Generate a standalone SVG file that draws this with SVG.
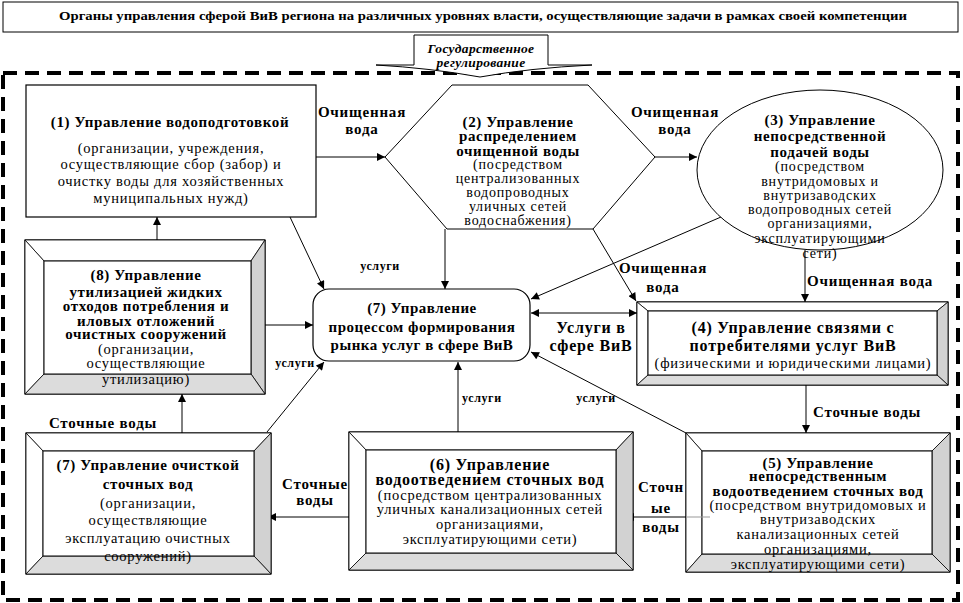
<svg xmlns="http://www.w3.org/2000/svg" width="963" height="603" viewBox="0 0 963 603" font-family="Liberation Serif">
<defs>
<marker id="ah" viewBox="0 0 10 10" refX="10" refY="5" markerWidth="9" markerHeight="8" markerUnits="userSpaceOnUse" orient="auto-start-reverse">
<path d="M0,0 L10,5 L0,10 Z" fill="#000"/>
</marker>
<style>
text{font-family:'Liberation Serif',serif;fill:#000}
.t{font-family:'Liberation Serif',serif;font-weight:bold;font-size:13px}
.b{font-family:'Liberation Serif',serif;font-weight:bold;font-size:15px;letter-spacing:0.6px;text-anchor:middle}
.b2{font-family:'Liberation Serif',serif;font-weight:bold;font-size:16px;letter-spacing:0.8px;text-anchor:middle}
.b3{font-family:'Liberation Serif',serif;font-weight:bold;font-size:15px;letter-spacing:0.5px;text-anchor:middle}
.n{font-family:'Liberation Serif',serif;font-size:14.5px;letter-spacing:0.75px;text-anchor:middle}
.n2{font-family:'Liberation Serif',serif;font-size:14px;letter-spacing:0.8px;text-anchor:middle}
.l{font-family:'Liberation Serif',serif;font-weight:bold;font-size:15px;letter-spacing:0.8px}
.u{font-family:'Liberation Serif',serif;font-weight:bold;font-size:12px;letter-spacing:0.6px}
.c{text-anchor:middle}
.ar{stroke:#000;stroke-width:1;fill:none;marker-end:url(#ah)}
.box{fill:#fff;stroke:#000;stroke-width:1.2}
.lt{fill:#fff;stroke:#000;stroke-width:0.8}
.gr{fill:#d2d2d2;stroke:#000;stroke-width:0.8}
.gb{fill:#dcdcdc;stroke:#000;stroke-width:0.8}
</style>
</defs>
<rect width="963" height="603" fill="#fff"/>

<g id="title">
<rect x="3" y="2" width="955" height="30" fill="#fff" stroke="#000" stroke-width="1"/>
<text class="t" x="483" y="20" text-anchor="middle" textLength="848" lengthAdjust="spacingAndGlyphs">Органы управления сферой ВиВ региона на различных уровнях власти, осуществляющие задачи в рамках своей компетенции</text>
</g>

<g id="border">
<rect x="3" y="73" width="955" height="527" fill="none" stroke="#000" stroke-width="4" stroke-dasharray="14,8"/>
</g>

<g id="regulation">
<path d="M414,65 L414,35 L548,35 L548,65 L592,65 Q530,68 480,77 Q430,68 376,65 L414,65 Z" fill="#fff" stroke="#000" stroke-width="1"/>
<text x="481" y="53" text-anchor="middle" font-size="13.5" font-style="italic" font-weight="bold" letter-spacing="0.3">Государственное</text>
<text x="481" y="67" text-anchor="middle" font-size="13.5" font-style="italic" font-weight="bold" letter-spacing="0.3">регулирование</text>
</g>

<g id="connectors">
<line class="ar" x1="316" y1="157" x2="385" y2="157"/>
<line class="ar" x1="655" y1="157" x2="697" y2="157"/>
<line class="ar" x1="445" y1="229" x2="445" y2="289"/>
<line class="ar" x1="593" y1="229" x2="636" y2="301"/>
<line class="ar" x1="721" y1="217" x2="531" y2="299"/>
<line class="ar" x1="805" y1="250" x2="805" y2="302"/>
<line class="ar" x1="531" y1="313" x2="637" y2="313" marker-start="url(#ah)"/>
<line class="ar" x1="290" y1="217" x2="324" y2="289"/>
<line class="ar" x1="157" y1="240" x2="157" y2="217"/>
<line class="ar" x1="265" y1="325" x2="313" y2="325"/>
<line class="ar" x1="267" y1="432" x2="324" y2="362"/>
<line class="ar" x1="182" y1="433" x2="182" y2="394"/>
<line class="ar" x1="458" y1="432" x2="458" y2="362"/>
<line class="ar" x1="686" y1="433" x2="531" y2="352"/>
<line class="ar" x1="806" y1="385" x2="806" y2="433"/>
<line class="ar" x1="686" y1="517" x2="626" y2="517"/>
<line class="ar" x1="349" y1="517" x2="268" y2="517"/>
</g>

<g id="labels">
<text class="l c" x="362" y="117">Очищенная</text>
<text class="l c" x="362" y="134">вода</text>
<text class="l c" x="675" y="117">Очищенная</text>
<text class="l c" x="675" y="134">вода</text>
<text class="u c" x="380" y="270">услуги</text>
<text class="l c" x="663" y="273">Очищенная</text>
<text class="l c" x="663" y="292">вода</text>
<text class="l" x="807" y="286">Очищенная вода</text>
<text class="b2" x="591" y="333">Услуги в</text>
<text class="b2" x="591" y="351">сфере ВиВ</text>
<text class="u c" x="295" y="367">услуги</text>
<text class="u" x="462" y="402">услуги</text>
<text class="u c" x="596" y="402">услуги</text>
<text class="l" x="813" y="417">Сточные воды</text>
<text class="l c" x="103" y="428">Сточные воды</text>
<text class="l c" x="315" y="489">Сточные</text>
<text class="l c" x="315" y="505">воды</text>
<text class="l c" x="661" y="492">Сточн</text>
<text class="l c" x="661" y="513">ые</text>
<text class="l c" x="661" y="532">воды</text>
</g>

<g id="node1">
<rect class="box" x="26" y="85" width="290" height="132"/>
<text class="b" x="170" y="127">(1) Управление водоподготовкой</text>
<text class="n" x="171" y="153">(организации, учреждения,</text>
<text class="n" x="171" y="169">осуществляющие сбор (забор) и</text>
<text class="n" x="171" y="186">очистку воды для хозяйственных</text>
<text class="n" x="171" y="203">муниципальных нужд)</text>
</g>

<g id="node2">
<polygon points="385,157 452,85 588,85 655,157 593,229 447,229" fill="#fff" stroke="#000" stroke-width="1"/>
<text class="b" x="518" y="127">(2) Управление</text>
<text class="b" x="518" y="141">распределением</text>
<text class="b" x="518" y="156">очищенной воды</text>
<text class="n2" x="518" y="169">(посредством</text>
<text class="n2" x="518" y="183">централизованных</text>
<text class="n2" x="518" y="197">водопроводных</text>
<text class="n2" x="518" y="211">уличных сетей</text>
<text class="n2" x="518" y="225">водоснабжения)</text>
</g>

<g id="node3">
<ellipse cx="820" cy="170" rx="123" ry="80" fill="#fff" stroke="#000" stroke-width="1"/>
<text class="b" x="820" y="125">(3) Управление</text>
<text class="b" x="820" y="141">непосредственной</text>
<text class="b" x="820" y="157">подачей воды</text>
<text class="n2" x="820" y="171">(посредством</text>
<text class="n2" x="820" y="186">внутридомовых и</text>
<text class="n2" x="820" y="200">внутризаводских</text>
<text class="n2" x="820" y="214">водопроводных сетей</text>
<text class="n2" x="820" y="228">организациями,</text>
<text class="n2" x="820" y="243">эксплуатирующими</text>
<text class="n2" x="820" y="258">сети)</text>
</g>

<g id="node8">
<rect class="box" x="25" y="240" width="240" height="154"/>
<polygon class="lt" points="25,240 265,240 251,261 44,261"/>
<polygon class="lt" points="25,240 44,261 44,374 25,394"/>
<polygon class="gr" points="265,240 265,394 251,374 251,261"/>
<polygon class="gb" points="25,394 44,374 251,374 265,394"/>
<rect x="44" y="261" width="207" height="113" fill="#fff" stroke="#000" stroke-width="1"/>
<text class="b" x="146" y="280">(8) Управление</text>
<text class="b" x="146" y="297">утилизацией жидких</text>
<text class="b" x="146" y="311">отходов потребления и</text>
<text class="b" x="146" y="326">иловых отложений</text>
<text class="b" x="146" y="339">очистных сооружений</text>
<text class="n" x="146" y="354">(организации,</text>
<text class="n" x="146" y="368">осуществляющие</text>
<text class="n" x="146" y="384">утилизацию)</text>
</g>

<g id="node7c">
<rect class="box" x="313" y="289" width="217" height="72" rx="16" ry="16"/>
<text class="b3" x="422" y="313">(7) Управление</text>
<text class="b3" x="422" y="332">процессом формирования</text>
<text class="b3" x="422" y="350">рынка услуг в сфере ВиВ</text>
</g>

<g id="node4">
<rect class="box" x="637" y="302" width="311" height="83"/>
<polygon class="lt" points="637,302 948,302 937,311 648,311"/>
<polygon class="lt" points="637,302 648,311 648,375 637,385"/>
<polygon class="gr" points="948,302 948,385 937,375 937,311"/>
<polygon class="gb" points="637,385 648,375 937,375 948,385"/>
<rect x="648" y="311" width="289" height="64" fill="#fff" stroke="#000" stroke-width="1"/>
<text class="b2" x="793" y="333">(4) Управление связями с</text>
<text class="b2" x="793" y="351">потребителями услуг ВиВ</text>
<text class="n" x="793" y="368">(физическими и юридическими лицами)</text>
</g>

<g id="node5">
<rect class="box" x="686" y="433" width="264" height="139"/>
<polygon class="lt" points="686,433 950,433 932,451 702,451"/>
<polygon class="lt" points="686,433 702,451 702,554 686,572"/>
<polygon class="gr" points="950,433 950,572 932,554 932,451"/>
<polygon class="gb" points="686,572 702,554 932,554 950,572"/>
<rect x="702" y="451" width="230" height="103" fill="#fff" stroke="#000" stroke-width="1"/>
<line x1="686" y1="517" x2="710" y2="517" stroke="#999" stroke-width="1"/>
<text class="b" x="818" y="468">(5) Управление</text>
<text class="b" x="818" y="481">непосредственным</text>
<text class="b" x="818" y="496">водоотведением сточных вод</text>
<text class="n" x="818" y="510">(посредством внутридомовых и</text>
<text class="n" x="818" y="524">внутризаводских</text>
<text class="n" x="818" y="539">канализационных сетей</text>
<text class="n" x="818" y="554">организациями,</text>
<text class="n" x="818" y="569">эксплуатирующими сети)</text>
</g>

<g id="node6">
<rect class="box" x="349" y="432" width="284" height="138"/>
<polygon class="lt" points="349,432 633,432 616,450 366,450"/>
<polygon class="lt" points="349,432 366,450 366,553 349,570"/>
<polygon class="gr" points="633,432 633,570 616,553 616,450"/>
<polygon class="gb" points="349,570 366,553 616,553 633,570"/>
<rect x="366" y="450" width="250" height="103" fill="#fff" stroke="#000" stroke-width="1"/>
<text class="b2" x="490" y="470">(6) Управление</text>
<text class="b2" x="490" y="485">водоотведением сточных вод</text>
<text class="n" x="490" y="500">(посредством централизованных</text>
<text class="n" x="490" y="514">уличных канализационных сетей</text>
<text class="n" x="490" y="529">организациями,</text>
<text class="n" x="490" y="544">эксплуатирующими сети)</text>
</g>

<g id="node7o">
<rect class="box" x="26" y="433" width="245" height="141"/>
<polygon class="lt" points="26,433 271,433 254,451 43,451"/>
<polygon class="lt" points="26,433 43,451 43,556 26,574"/>
<polygon class="gr" points="271,433 271,574 254,556 254,451"/>
<polygon class="gb" points="26,574 43,556 254,556 271,574"/>
<rect x="43" y="451" width="211" height="105" fill="#fff" stroke="#000" stroke-width="1"/>
<text class="b" x="148" y="470">(7) Управление очисткой</text>
<text class="b" x="148" y="489">сточных вод</text>
<text class="n" x="148" y="508">(организации,</text>
<text class="n" x="148" y="525">осуществляющие</text>
<text class="n" x="148" y="543">эксплуатацию очистных</text>
<text class="n" x="148" y="561">сооружений)</text>
</g>
</svg>
